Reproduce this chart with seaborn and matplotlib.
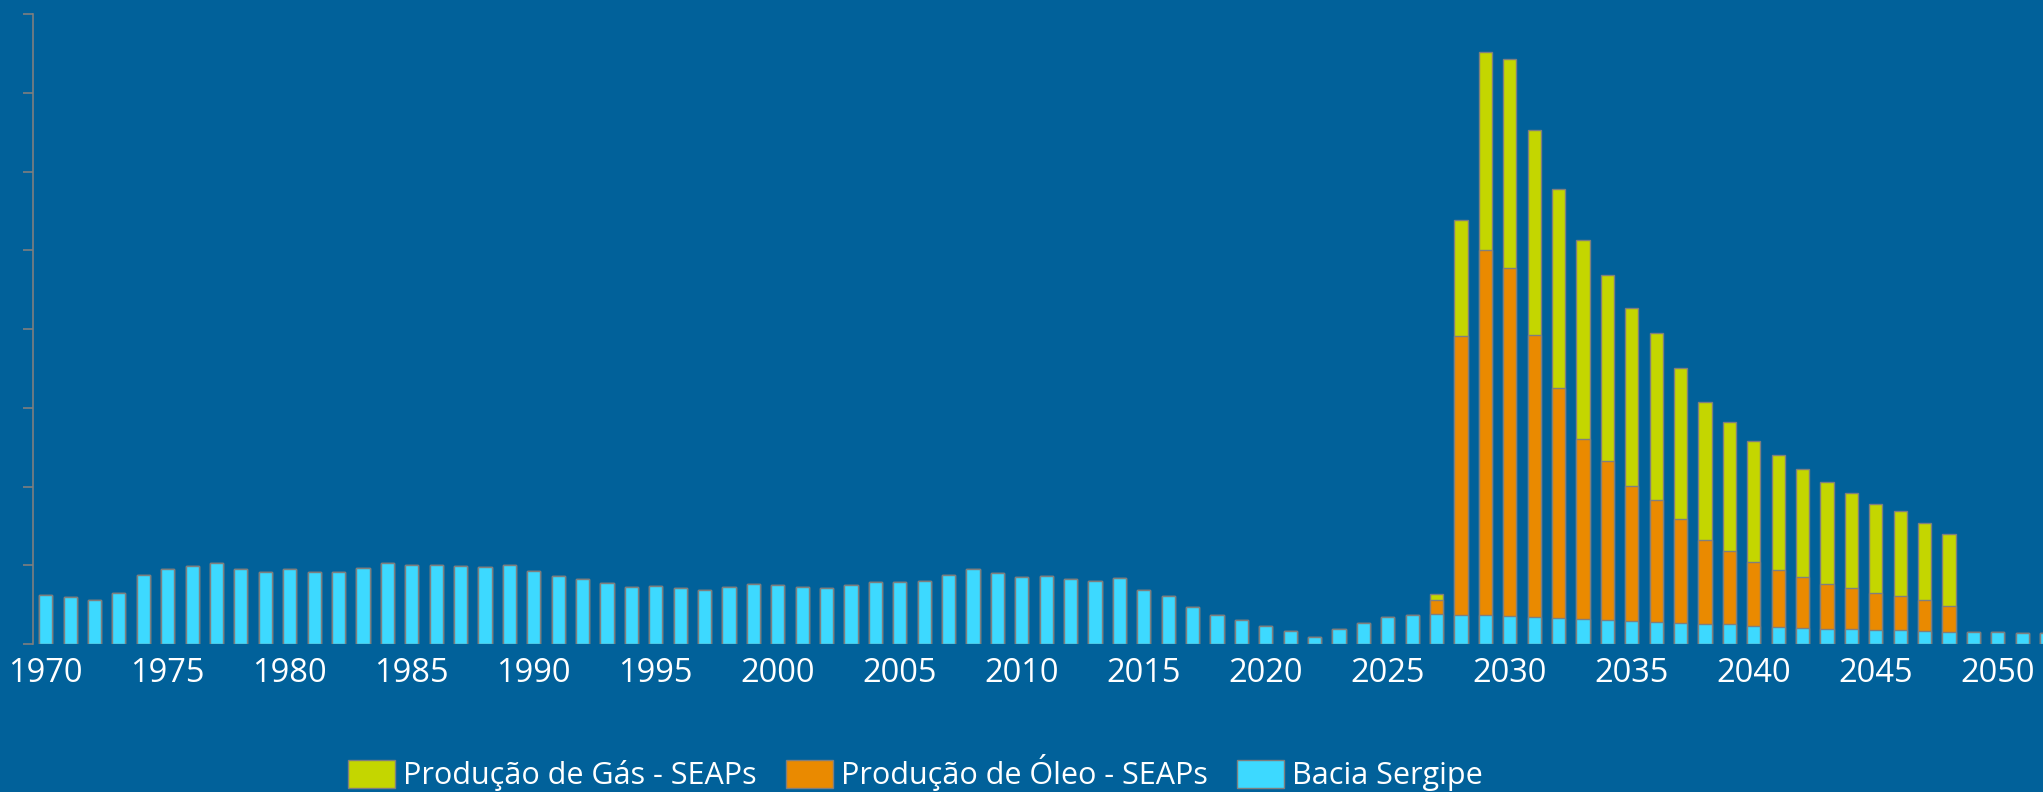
import numpy as np
import pandas as pd
import matplotlib.pyplot as plt
import seaborn as sns

# values (no y labels, axis runs 0-8)
years = list(range(1970, 2053))
bacia = [0.616, 0.603, 0.565, 0.650, 0.873, 0.949, 0.992, 1.025, 0.958, 0.911,
         0.954, 0.911, 0.916, 0.962, 1.034, 1.008, 1.008, 0.996, 0.983, 1.008,
         0.924, 0.861, 0.823, 0.772, 0.730, 0.734, 0.713, 0.684, 0.722, 0.764,
         0.743, 0.722, 0.717, 0.755, 0.781, 0.789, 0.797, 0.878, 0.954, 0.899,
         0.848, 0.861, 0.827, 0.797, 0.840, 0.688, 0.608, 0.473, 0.367, 0.300,
         0.228, 0.160, 0.093, 0.190, 0.266, 0.338, 0.367, 0.376, 0.365, 0.365,
         0.350, 0.341, 0.331, 0.315, 0.305, 0.290, 0.275, 0.270, 0.259, 0.249,
         0.229, 0.219, 0.203, 0.193, 0.188, 0.178, 0.173, 0.163, 0.153, 0.155,
         0.148, 0.140, 0.135]

seap_years = list(range(2027, 2049))
oleo = [0.185, 3.546, 4.635, 4.421, 3.581, 2.914, 2.284, 2.025, 1.719, 1.556,
        1.312, 1.058, 0.926, 0.809, 0.727, 0.646, 0.570, 0.519, 0.468, 0.442,
        0.391, 0.335]
gas = [0.068, 1.476, 2.523, 2.660, 2.609, 2.528, 2.528, 2.360, 2.253, 2.121,
       1.928, 1.755, 1.638, 1.536, 1.455, 1.379, 1.297, 1.211, 1.129, 1.069,
       0.977, 0.911]

tick_years = list(range(1970, 2051, 5))

labels = ["Produção de Gás - SEAPs", "Produção de Óleo - SEAPs", "Bacia Sergipe"]
colors = ["#C4D600", "#EA8A00", "#3DD9FF"]
bg = "#01619A"
edge = "#7F7F7F"

df = pd.DataFrame({"ano": [str(y) for y in years], "bacia": bacia})
df["oleo"] = df["ano"].map(dict(zip([str(y) for y in seap_years], oleo))).fillna(0)
df["gas"] = df["ano"].map(dict(zip([str(y) for y in seap_years], gas))).fillna(0)
df["oleo_cum"] = df["bacia"] + df["oleo"]
df["total"] = df["oleo_cum"] + df["gas"]

plt.rcParams["font.family"] = ["Open Sans", "DejaVu Sans"]

fig = plt.figure(figsize=(20.43, 7.92), dpi=100, facecolor=bg)
ax = fig.add_axes([33 / 2043, 1 - 644 / 792, 1 - 33 / 2043, 630 / 792])
ax.set_facecolor(bg)

# stacked look: draw the totals first, then the lower parts over them
order = list(df["ano"])
for col, lab, c in zip(["total", "oleo_cum", "bacia"], labels, colors):
    sns.barplot(data=df, x="ano", y=col, order=order, color=c, saturation=1,
                width=0.54, edgecolor=edge, linewidth=1.0, errorbar=None,
                label=lab, ax=ax)

ax.set_ylim(0, 8)
ax.set_xlim(-0.52, 81.85)
ax.set_yticks(range(0, 9))
ax.set_yticklabels([])
ax.set_xticks([years.index(y) for y in tick_years])
ax.set_xticklabels([str(y) for y in tick_years], color="white", fontsize=23.5)
ax.tick_params(axis="x", length=0, pad=9)
ax.tick_params(axis="y", length=7.2, width=1.2, color=edge, direction="out")
ax.set_xlabel("")
ax.set_ylabel("")
for s in ["top", "right", "bottom"]:
    ax.spines[s].set_visible(False)
ax.spines["left"].set_color(edge)
ax.spines["left"].set_linewidth(1.2)

leg = ax.legend(loc="center", bbox_to_anchor=(0.448, 0.024),
                bbox_transform=fig.transFigure, ncol=3, frameon=False,
                fontsize=22, handlelength=1.55, handleheight=1.0,
                handletextpad=0.25, columnspacing=0.95, borderpad=0)
for t in leg.get_texts():
    t.set_color("white")

fig.savefig("out.png", dpi=100, facecolor=bg)
